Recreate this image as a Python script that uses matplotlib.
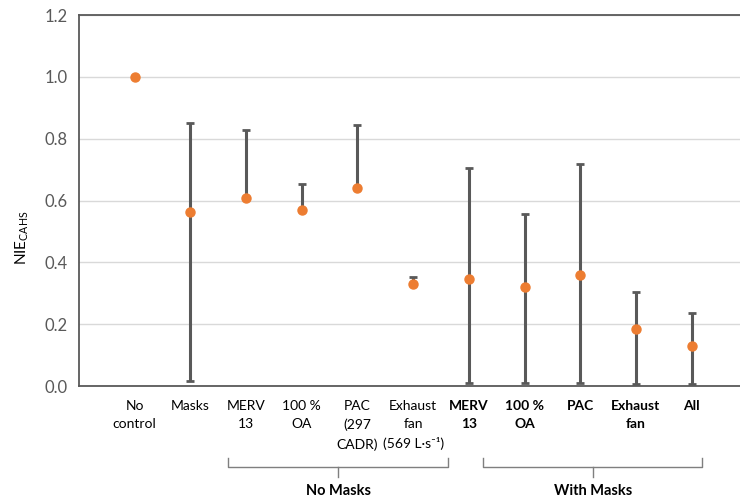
import numpy as np
import matplotlib.pyplot as plt
import matplotlib.transforms as mtransforms

plt.rcParams["font.family"] = ["Lato", "DejaVu Sans"]
plt.rcParams["mathtext.fontset"] = "custom"
plt.rcParams["mathtext.rm"] = "Lato"
plt.rcParams["mathtext.it"] = "Lato"
plt.rcParams["mathtext.bf"] = "Lato:bold"

labels = [
    "No\ncontrol", "Masks", "MERV\n13", "100 %\nOA", "PAC\n(297\nCADR)",
    "Exhaust\nfan\n(569 L·s⁻¹)",
    "MERV\n13", "100 %\nOA", "PAC", "Exhaust\nfan", "All",
]
bold_label = [False] * 6 + [True] * 5
nie = [1.00, 0.563, 0.608, 0.570, 0.639, 0.330, 0.345, 0.321, 0.360, 0.184, 0.130]
upper = [1.00, 0.851, 0.828, 0.652, 0.843, 0.353, 0.705, 0.556, 0.717, 0.304, 0.235]
lower = [1.00, 0.016, 0.608, 0.570, 0.639, 0.330, 0.010, 0.010, 0.010, 0.005, 0.005]

groups = ["No Masks", "With Masks"]
group_span = [(1.68, 5.63), (6.26, 10.19)]

x = np.arange(len(labels))
nie = np.array(nie)
err = np.vstack([nie - np.array(lower), np.array(upper) - nie])

fig = plt.figure(figsize=(7.4, 5.01), dpi=100)
ax = fig.add_axes([0.1068, 0.2295, 0.8932, 0.7405])

ax.set_axisbelow(True)
ax.yaxis.grid(True, color="#d9d9d9", linewidth=1)
ax.errorbar(x, nie, yerr=err, fmt="none", ecolor="#595959", elinewidth=2.2,
            capsize=3, capthick=2, zorder=2)
ax.plot(x, nie, "o", color="#ed7d31", markersize=6.5, zorder=3)

ax.set_xlim(-1, 10.87)
ax.set_ylim(0, 1.2)
ax.set_yticks(np.arange(0, 1.21, 0.2))
ax.set_yticklabels([f"{v:.1f}" for v in np.arange(0, 1.21, 0.2)])
ax.set_xticks([])
ax.tick_params(axis="y", length=0, labelsize=12, labelcolor="#595959", pad=8)
for side in ["left", "top", "bottom"]:
    ax.spines[side].set_color("#595959")
    ax.spines[side].set_linewidth(1.3)
ax.spines["right"].set_visible(False)

fig.text(22 / 740, 1 - 238 / 501, "NIE$_{\\mathrm{CAHS}}$", rotation=90,
         ha="center", va="center", fontsize=11)

trans = mtransforms.blended_transform_factory(ax.transData, ax.transAxes)
for xi, lab, b in zip(x, labels, bold_label):
    ax.text(xi, -0.037, lab, transform=trans, ha="center", va="top",
            multialignment="center", fontsize=10, linespacing=1.65,
            fontweight="bold" if b else "normal")

for name, (x0, x1) in zip(groups, group_span):
    xc = (x0 + x1) / 2
    kw = dict(transform=trans, color="#7f7f7f", linewidth=1, clip_on=False)
    ax.plot([x0, x0, x1, x1], [-0.194, -0.218, -0.218, -0.194], **kw)
    ax.plot([xc, xc], [-0.218, -0.245], **kw)
    ax.text(xc, -0.282, name, transform=trans, ha="center", va="center",
            fontsize=10.5, fontweight="bold")

fig.savefig("out.png", dpi=100)
